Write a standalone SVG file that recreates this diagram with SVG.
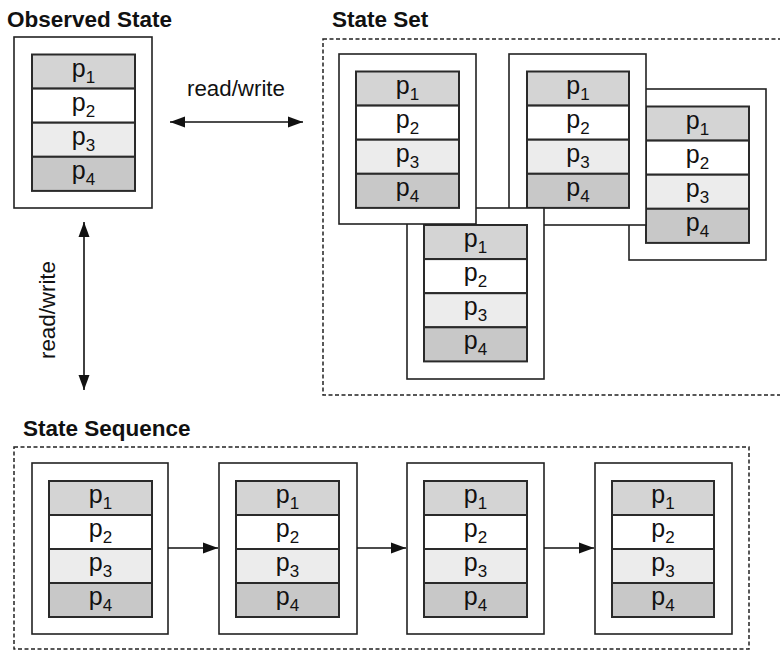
<svg xmlns="http://www.w3.org/2000/svg" width="780" height="651" viewBox="0 0 780 651">
  <style>
    .title { font-family: "Liberation Sans", Arial, sans-serif; font-weight: bold; font-size: 22.5px; fill: #111; }
    .lbl { font-family: "Liberation Sans", Arial, sans-serif; font-size: 22.3px; fill: #111; }
    .frame { fill: #fff; stroke: #222; stroke-width: 1.6; }
    .cell { stroke: #2a2a2a; stroke-width: 2; }
    .c1 { fill: #d4d4d4; }
    .c2 { fill: #ffffff; }
    .c3 { fill: #ececec; }
    .c4 { fill: #c8c8c8; }
    .p { font-family: "Liberation Sans", Arial, sans-serif; font-size: 25px; fill: #111; text-anchor: middle; }
    .sub { font-size: 17px; }
    .dash { fill: none; stroke: #222; stroke-width: 1.5; stroke-dasharray: 4 2.5; }
    .link { fill: none; stroke: #111; stroke-width: 1.6; }
  </style>
  <defs>
    <marker id="head" markerUnits="userSpaceOnUse" markerWidth="16" markerHeight="12" viewBox="0 0 16 12" refX="15" refY="6" orient="auto-start-reverse">
      <path d="M0,0.5 L15,6 L0,11.5 z" fill="#111"/>
    </marker>
  </defs>
  <rect width="780" height="651" fill="#fff"/>

  <!-- group containers -->
  <text class="title" x="7" y="27">Observed State</text>
  <text class="title" x="332" y="27">State Set</text>
  <rect class="dash" x="323" y="39" width="480" height="356"/>
  <text class="title" x="23" y="436">State Sequence</text>
  <rect class="dash" x="14" y="447" width="735" height="202"/>

  <!-- observed state -->
  <g id="observed" transform="translate(14,37)">
    <rect class="frame" x="0" y="0" width="138" height="171"/>
    <rect class="cell c1" x="18" y="17.5" width="103" height="34.1"/>
    <rect class="cell c2" x="18" y="51.6" width="103" height="34.1"/>
    <rect class="cell c3" x="18" y="85.7" width="103" height="34.1"/>
    <rect class="cell c4" x="18" y="119.8" width="103" height="34.1"/>
    <text class="p" x="69.5" y="39.5">p<tspan class="sub" dy="6">1</tspan></text>
    <text class="p" x="69.5" y="73.6">p<tspan class="sub" dy="6">2</tspan></text>
    <text class="p" x="69.5" y="107.7">p<tspan class="sub" dy="6">3</tspan></text>
    <text class="p" x="69.5" y="141.8">p<tspan class="sub" dy="6">4</tspan></text>
  </g>

  <!-- state set members (back to front) -->
  <g id="set-c" transform="translate(629,89)">
    <rect class="frame" x="0" y="0" width="137" height="171"/>
    <rect class="cell c1" x="17" y="17.5" width="103" height="34.1"/>
    <rect class="cell c2" x="17" y="51.6" width="103" height="34.1"/>
    <rect class="cell c3" x="17" y="85.7" width="103" height="34.1"/>
    <rect class="cell c4" x="17" y="119.8" width="103" height="34.1"/>
    <text class="p" x="68.5" y="39.5">p<tspan class="sub" dy="6">1</tspan></text>
    <text class="p" x="68.5" y="73.6">p<tspan class="sub" dy="6">2</tspan></text>
    <text class="p" x="68.5" y="107.7">p<tspan class="sub" dy="6">3</tspan></text>
    <text class="p" x="68.5" y="141.8">p<tspan class="sub" dy="6">4</tspan></text>
  </g>
  <g id="set-b" transform="translate(509,54)">
    <rect class="frame" x="0" y="0" width="137" height="171"/>
    <rect class="cell c1" x="18" y="17.5" width="102" height="34.1"/>
    <rect class="cell c2" x="18" y="51.6" width="102" height="34.1"/>
    <rect class="cell c3" x="18" y="85.7" width="102" height="34.1"/>
    <rect class="cell c4" x="18" y="119.8" width="102" height="34.1"/>
    <text class="p" x="69" y="39.5">p<tspan class="sub" dy="6">1</tspan></text>
    <text class="p" x="69" y="73.6">p<tspan class="sub" dy="6">2</tspan></text>
    <text class="p" x="69" y="107.7">p<tspan class="sub" dy="6">3</tspan></text>
    <text class="p" x="69" y="141.8">p<tspan class="sub" dy="6">4</tspan></text>
  </g>
  <g id="set-d" transform="translate(407,208)">
    <rect class="frame" x="0" y="0" width="137" height="171"/>
    <rect class="cell c1" x="17" y="17" width="103" height="34.1"/>
    <rect class="cell c2" x="17" y="51.1" width="103" height="34.1"/>
    <rect class="cell c3" x="17" y="85.2" width="103" height="34.1"/>
    <rect class="cell c4" x="17" y="119.3" width="103" height="34.1"/>
    <text class="p" x="68.5" y="39">p<tspan class="sub" dy="6">1</tspan></text>
    <text class="p" x="68.5" y="73.1">p<tspan class="sub" dy="6">2</tspan></text>
    <text class="p" x="68.5" y="107.2">p<tspan class="sub" dy="6">3</tspan></text>
    <text class="p" x="68.5" y="141.3">p<tspan class="sub" dy="6">4</tspan></text>
  </g>
  <g id="set-a" transform="translate(339,54)">
    <rect class="frame" x="0" y="0" width="137" height="170"/>
    <rect class="cell c1" x="17" y="17.5" width="103" height="34.1"/>
    <rect class="cell c2" x="17" y="51.6" width="103" height="34.1"/>
    <rect class="cell c3" x="17" y="85.7" width="103" height="34.1"/>
    <rect class="cell c4" x="17" y="119.8" width="103" height="34.1"/>
    <text class="p" x="68.5" y="39.5">p<tspan class="sub" dy="6">1</tspan></text>
    <text class="p" x="68.5" y="73.6">p<tspan class="sub" dy="6">2</tspan></text>
    <text class="p" x="68.5" y="107.7">p<tspan class="sub" dy="6">3</tspan></text>
    <text class="p" x="68.5" y="141.8">p<tspan class="sub" dy="6">4</tspan></text>
  </g>

  <!-- state sequence -->
  <g id="seq-1" transform="translate(32,463)">
    <rect class="frame" x="0" y="0" width="136" height="171"/>
    <rect class="cell c1" x="17" y="18" width="103" height="34"/>
    <rect class="cell c2" x="17" y="52" width="103" height="34"/>
    <rect class="cell c3" x="17" y="86" width="103" height="34"/>
    <rect class="cell c4" x="17" y="120" width="103" height="34"/>
    <text class="p" x="68.5" y="40">p<tspan class="sub" dy="6">1</tspan></text>
    <text class="p" x="68.5" y="74">p<tspan class="sub" dy="6">2</tspan></text>
    <text class="p" x="68.5" y="108">p<tspan class="sub" dy="6">3</tspan></text>
    <text class="p" x="68.5" y="142">p<tspan class="sub" dy="6">4</tspan></text>
  </g>
  <g id="seq-2" transform="translate(219,463)">
    <rect class="frame" x="0" y="0" width="138" height="171"/>
    <rect class="cell c1" x="17" y="18" width="103" height="34"/>
    <rect class="cell c2" x="17" y="52" width="103" height="34"/>
    <rect class="cell c3" x="17" y="86" width="103" height="34"/>
    <rect class="cell c4" x="17" y="120" width="103" height="34"/>
    <text class="p" x="68.5" y="40">p<tspan class="sub" dy="6">1</tspan></text>
    <text class="p" x="68.5" y="74">p<tspan class="sub" dy="6">2</tspan></text>
    <text class="p" x="68.5" y="108">p<tspan class="sub" dy="6">3</tspan></text>
    <text class="p" x="68.5" y="142">p<tspan class="sub" dy="6">4</tspan></text>
  </g>
  <g id="seq-3" transform="translate(407,463)">
    <rect class="frame" x="0" y="0" width="137" height="171"/>
    <rect class="cell c1" x="17" y="18" width="103" height="34"/>
    <rect class="cell c2" x="17" y="52" width="103" height="34"/>
    <rect class="cell c3" x="17" y="86" width="103" height="34"/>
    <rect class="cell c4" x="17" y="120" width="103" height="34"/>
    <text class="p" x="68.5" y="40">p<tspan class="sub" dy="6">1</tspan></text>
    <text class="p" x="68.5" y="74">p<tspan class="sub" dy="6">2</tspan></text>
    <text class="p" x="68.5" y="108">p<tspan class="sub" dy="6">3</tspan></text>
    <text class="p" x="68.5" y="142">p<tspan class="sub" dy="6">4</tspan></text>
  </g>
  <g id="seq-4" transform="translate(595,463)">
    <rect class="frame" x="0" y="0" width="137" height="171"/>
    <rect class="cell c1" x="17" y="18" width="102" height="34"/>
    <rect class="cell c2" x="17" y="52" width="102" height="34"/>
    <rect class="cell c3" x="17" y="86" width="102" height="34"/>
    <rect class="cell c4" x="17" y="120" width="102" height="34"/>
    <text class="p" x="68" y="40">p<tspan class="sub" dy="6">1</tspan></text>
    <text class="p" x="68" y="74">p<tspan class="sub" dy="6">2</tspan></text>
    <text class="p" x="68" y="108">p<tspan class="sub" dy="6">3</tspan></text>
    <text class="p" x="68" y="142">p<tspan class="sub" dy="6">4</tspan></text>
  </g>

  <!-- connectors -->
  <g id="connectors">
    <line class="link" x1="170" y1="122" x2="303" y2="122" marker-start="url(#head)" marker-end="url(#head)"/>
    <text class="lbl" x="236" y="96" text-anchor="middle">read/write</text>
    <line class="link" x1="84" y1="222" x2="84" y2="390" marker-start="url(#head)" marker-end="url(#head)"/>
    <text class="lbl" transform="translate(55,310) rotate(-90)" text-anchor="middle">read/write</text>
    <line class="link" x1="168" y1="548" x2="218" y2="548" marker-end="url(#head)"/>
    <line class="link" x1="357" y1="548" x2="406" y2="548" marker-end="url(#head)"/>
    <line class="link" x1="544" y1="548" x2="594" y2="548" marker-end="url(#head)"/>
  </g>
</svg>
